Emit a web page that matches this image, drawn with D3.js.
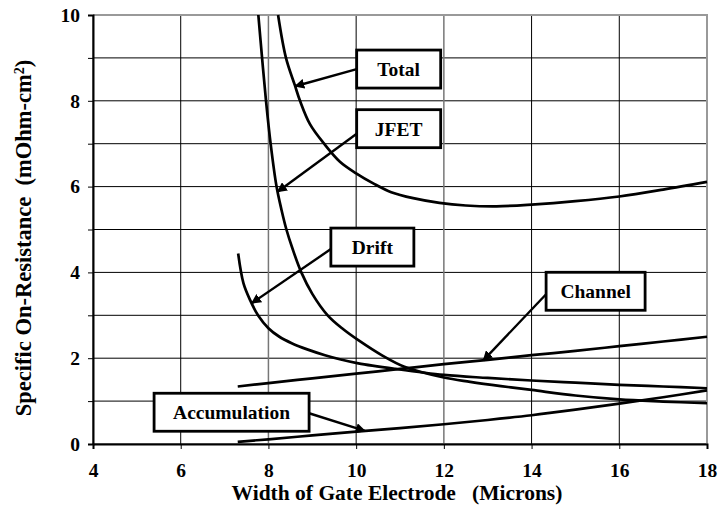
<!DOCTYPE html>
<html>
<head>
<meta charset="utf-8">
<script src="https://cdn.jsdelivr.net/npm/d3@7"></script>
<style>
  html, body { margin: 0; padding: 0; background: #fff; }
  svg text { font-family: "Liberation Serif", "Times New Roman", serif; font-weight: bold; fill: #000; white-space: pre; }
</style>
</head>
<body>
<svg id="chart" width="719" height="512"></svg>
<script>
// Gate width (microns) and the specific on-resistance components (mOhm-cm2)
const totalX = [8.22, 8.40, 8.6, 8.72, 8.95, 9.27, 9.63, 10.0, 10.4, 10.8, 11.3, 11.9, 12.5, 13.2, 14.0, 15.0, 16.0, 17.0, 18.0];
const totalY = [10.0, 9.0, 8.37, 8.0, 7.45, 7.0, 6.58, 6.31, 6.07, 5.87, 5.73, 5.62, 5.56, 5.54, 5.58, 5.66, 5.77, 5.93, 6.11];

const jfetX = [7.77, 7.855, 7.945, 8.05, 8.185, 8.30, 8.41, 8.55, 8.75, 9.0, 9.35, 9.7, 10.05, 10.6, 11.1, 12.0, 12.6, 13.3, 14.0, 15.0, 16.0, 17.0, 18.0];
const jfetY = [10.0, 9.0, 8.0, 7.0, 6.0, 5.45, 5.0, 4.55, 4.0, 3.5, 3.0, 2.68, 2.42, 2.06, 1.80, 1.55, 1.45, 1.35, 1.26, 1.13, 1.04, 0.99, 0.95];

const driftX = [7.31, 7.43, 7.58, 7.77, 8.0, 8.25, 8.53, 8.9, 9.29, 9.65, 10.05, 10.9, 12.0, 13.0, 14.0, 15.0, 16.0, 17.0, 18.0];
const driftY = [4.44, 3.75, 3.36, 2.99, 2.70, 2.50, 2.35, 2.20, 2.07, 1.97, 1.88, 1.75, 1.61, 1.54, 1.48, 1.43, 1.38, 1.34, 1.30];

const channelX = [7.3, 8, 9, 10, 11, 12, 13, 14, 15, 16, 17, 18];
const channelY = [1.34, 1.42, 1.53, 1.64, 1.75, 1.86, 1.96, 2.07, 2.17, 2.28, 2.39, 2.50];

const accumX = [7.3, 8, 9, 10, 11, 12, 13, 14, 15, 16, 17, 18];
const accumY = [0.05, 0.11, 0.20, 0.29, 0.37, 0.46, 0.56, 0.67, 0.80, 0.94, 1.09, 1.25];

const xTicks = [4, 6, 8, 10, 12, 14, 16, 18];
const yTicks = [0, 2, 4, 6, 8, 10];
const yGrid = [0, 1, 2, 3, 4, 5, 6, 7, 8, 9, 10];

const series = [
  { name: "Total", xs: totalX, ys: totalY },
  { name: "JFET", xs: jfetX, ys: jfetY },
  { name: "Drift", xs: driftX, ys: driftY },
  { name: "Channel", xs: channelX, ys: channelY },
  { name: "Accumulation", xs: accumX, ys: accumY }
];

// Callout boxes: box centre in data units, arrow tip given by an x on the curve
const callouts = [
  { name: "Total",        cx: 10.97, cy: 8.74, w: 84,  h: 38, side: "left",  dy: 0,  tipX: 8.61 },
  { name: "JFET",         cx: 10.97, cy: 7.35, w: 84,  h: 38, side: "left",  dy: 5,  tipX: 8.21 },
  { name: "Drift",        cx: 10.37, cy: 4.59, w: 83,  h: 38, side: "left",  dy: 2,  tipX: 7.62 },
  { name: "Channel",      cx: 15.46, cy: 3.56, w: 99,  h: 38, side: "left",  dy: 3,  tipX: 12.9 },
  { name: "Accumulation", cx: 7.16,  cy: 0.74, w: 155, h: 38, side: "right", dy: 1,  tipX: 10.2 }
];

const svg = d3.select("#chart");
const margin = { left: 93, top: 15, right: 12, bottom: 68 };
const W = 719, H = 512;

const x = d3.scaleLinear().domain([4, 18]).range([margin.left, W - margin.right]);
const y = d3.scaleLinear().domain([0, 10]).range([H - margin.bottom, margin.top]);

// grid
const grid = svg.append("g");
grid.selectAll("line.h").data(yGrid).join("line")
  .attr("x1", x(4)).attr("x2", x(18))
  .attr("y1", d => y(d)).attr("y2", d => y(d))
  .attr("stroke", "#000").attr("stroke-width", 1);
grid.selectAll("line.v").data(xTicks).join("line")
  .attr("y1", y(0)).attr("y2", y(10))
  .attr("x1", d => x(d)).attr("x2", d => x(d))
  .attr("stroke", d => (d === 8 || d === 12) ? "#777" : "#000").attr("stroke-width", d => (d === 8 || d === 12) ? 1.5 : 1);

// plot frame (top and right edges)
svg.append("path")
  .attr("d", `M${x(4)},${y(10)}H${x(18)}V${y(0)}`)
  .attr("fill", "none").attr("stroke", "#999").attr("stroke-width", 2);

// axes
const yAxis = svg.append("g").attr("transform", `translate(${x(4)},0)`)
  .call(d3.axisLeft(y).tickValues(yGrid).tickSize(5).tickFormat(d => yTicks.includes(d) ? d : ""));
const xAxis = svg.append("g").attr("transform", `translate(0,${y(0)})`)
  .call(d3.axisBottom(x).tickValues(xTicks).tickSize(5).tickFormat(d => d));
[yAxis, xAxis].forEach(a => {
  a.select(".domain").attr("stroke", "#000").attr("stroke-width", 2);
  a.selectAll(".tick line").attr("stroke", "#000").attr("stroke-width", 1);
  a.selectAll("text").attr("font-family", "Liberation Serif").attr("font-weight", "bold").attr("font-size", 19.5).attr("fill", "#000");
});
yAxis.selectAll("text").attr("x", -13);
xAxis.selectAll("text").attr("y", 19);

// curves
const line = d3.line().x(d => x(d[0])).y(d => y(d[1])).curve(d3.curveCatmullRom.alpha(0.5));
svg.append("g").selectAll("path").data(series).join("path")
  .attr("d", s => line(s.xs.map((v, i) => [v, s.ys[i]])))
  .attr("fill", "none").attr("stroke", "#000").attr("stroke-width", 2.7)
  .attr("stroke-linejoin", "round");

// arrowhead
svg.append("defs").append("marker")
  .attr("id", "arrow").attr("viewBox", "0 0 10 10").attr("refX", 9).attr("refY", 5)
  .attr("markerWidth", 4.2).attr("markerHeight", 4.2).attr("orient", "auto")
  .append("path").attr("d", "M0,0L10,5L0,10z").attr("fill", "#000");

const bySeries = Object.fromEntries(series.map(s => [s.name, s]));
function valueAt(s, xv) {
  const i = d3.bisectLeft(s.xs, xv);
  if (i <= 0) return s.ys[0];
  if (i >= s.xs.length) return s.ys[s.xs.length - 1];
  const t = (xv - s.xs[i - 1]) / (s.xs[i] - s.xs[i - 1]);
  return s.ys[i - 1] + t * (s.ys[i] - s.ys[i - 1]);
}

const cg = svg.append("g");
callouts.forEach(c => {
  const bx = x(c.cx) - c.w / 2, by = y(c.cy) - c.h / 2;
  const sx = c.side === "left" ? bx : bx + c.w;
  const sy = y(c.cy) + c.dy;
  const tx = x(c.tipX), ty = y(valueAt(bySeries[c.name], c.tipX));
  cg.append("line")
    .attr("x1", sx).attr("y1", sy).attr("x2", tx).attr("y2", ty)
    .attr("stroke", "#000").attr("stroke-width", 2.4)
    .attr("marker-end", "url(#arrow)");
  cg.append("rect")
    .attr("x", bx).attr("y", by).attr("width", c.w).attr("height", c.h)
    .attr("fill", "#fff").attr("stroke", "#000").attr("stroke-width", 2.8);
  cg.append("text")
    .attr("x", x(c.cx)).attr("y", y(c.cy)).attr("dy", "0.35em")
    .attr("text-anchor", "middle").attr("font-size", 19.5)
    .text(c.name);
});

// axis titles
svg.append("text")
  .attr("x", 397).attr("y", 500).attr("text-anchor", "middle").attr("font-size", 21.5)
  .text("Width of Gate Electrode   (Microns)");

const yt = svg.append("text")
  .attr("transform", "translate(31,238) rotate(-90)")
  .attr("text-anchor", "middle").attr("font-size", 22.5);
yt.append("tspan").text("Specific On-Resistance  (mOhm-cm");
yt.append("tspan").attr("baseline-shift", "super").attr("font-size", 14).text("2");
yt.append("tspan").text(")");
</script>
</body>
</html>
